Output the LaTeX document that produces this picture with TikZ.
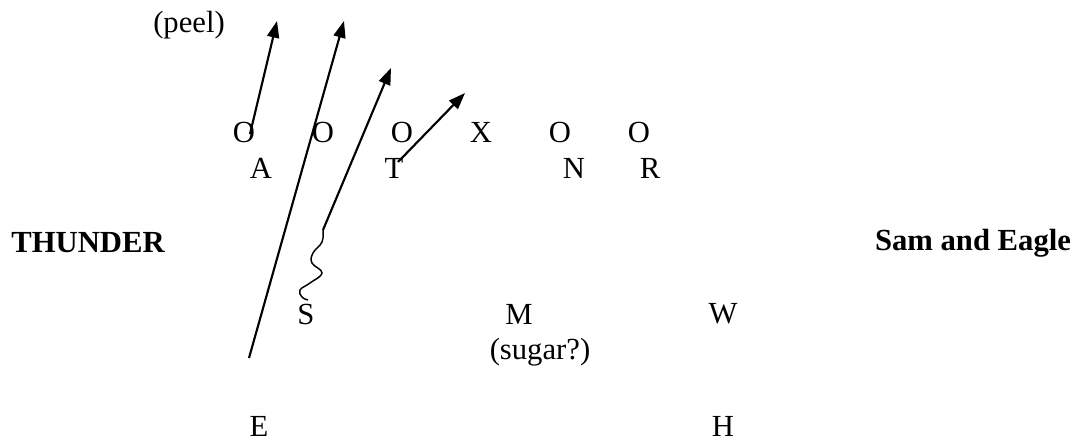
\documentclass[tikz,border=0pt]{standalone}
\usepackage{fontspec}
\setmainfont{Liberation Serif}
\usetikzlibrary{arrows.meta}
\begin{document}
\begin{tikzpicture}[x=0.75pt,y=-0.75pt,
  lbl/.style={inner sep=0pt,font=\fontsize{23}{26}\selectfont},
  blbl/.style={inner sep=0pt,font=\fontsize{23}{26}\selectfont\bfseries},
  route/.style={line width=1.6pt,-{Triangle[length=12.5pt,width=9pt]}},
  wig/.style={line width=1.1pt}]
\useasboundingbox (0,0) rectangle (1083,442);
% labels
\node[lbl] (peel) at (189,25) {(peel)};
\node[lbl] (o1) at (244,132) {O};
\node[lbl] (o2) at (323,132) {O};
\node[lbl] (o3) at (402,132) {O};
\node[lbl] (x)  at (481,132) {X};
\node[lbl] (o4) at (560,132) {O};
\node[lbl] (o5) at (639,132) {O};
\node[lbl] (a) at (261,168) {A};
\node[lbl] (t) at (394,168) {T};
\node[lbl] (n) at (574,168) {N};
\node[lbl] (r) at (650,168) {R};
\node[blbl] (thunder) at (88,243) {THUNDER};
\node[blbl] (sam) at (973,243) {Sam and Eagle};
\node[lbl] (s) at (306,314) {S};
\node[lbl] (m) at (519,314) {M};
\node[lbl] (w) at (723,314) {W};
\node[lbl] (sugar) at (540,352) {(sugar?)};
\node[lbl] (e) at (259,426) {E};
\node[lbl] (h) at (723,426) {H};
% free ends
\coordinate (a1s) at (250,134);
\coordinate (a1e) at (277,21);
\coordinate (a2s) at (249,358);
\coordinate (a2e) at (344,21);
\coordinate (a3s) at (323,230);
\coordinate (a3e) at (391,68);
\coordinate (a4s) at (398,162);
\coordinate (a4e) at (465,93);
% routes
\draw[route] (a1s) -- (a1e);
\draw[route] (a2s) -- (a2e);
\draw[route] (a3s) -- (a3e);
\draw[route] (a4s) -- (a4e);
% wiggle from S up to route 3
\draw[wig] plot[smooth,tension=0.7] coordinates {(308,300) (302,297) (300,290) (310,283) (322,273) (312,263) (313,253) (322,242) (323,230)};
\end{tikzpicture}
\end{document}
